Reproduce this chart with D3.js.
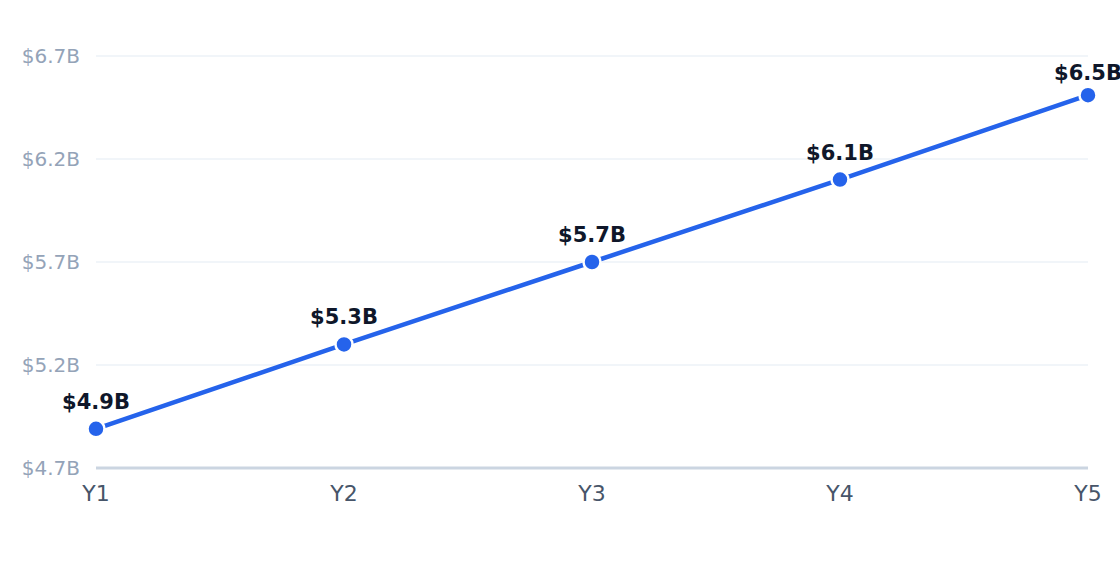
<!DOCTYPE html>
<html><head><meta charset="utf-8">
<script src="https://cdn.jsdelivr.net/npm/d3@7/dist/d3.min.js"></script>
<style>body{margin:0;background:#fff;}svg{display:block;font-family:"DejaVu Sans",sans-serif;}</style>
</head><body><svg id="c" width="1120" height="572"></svg>
<script>
const categories = ["Y1","Y2","Y3","Y4","Y5"];
const values = [4.89, 5.30, 5.70, 6.10, 6.51];
const labels = ["$4.9B","$5.3B","$5.7B","$6.1B","$6.5B"];
const yTicks = [4.7, 5.2, 5.7, 6.2, 6.7];
const yTickLabels = ["$4.7B","$5.2B","$5.7B","$6.2B","$6.7B"];

const svg = d3.select("#c");
const x = d3.scalePoint().domain(categories).range([96, 1088]);
const y = d3.scaleLinear().domain([4.7, 6.7]).range([468, 56]);

// grid
svg.append("g").selectAll("line").data(yTicks.slice(1)).join("line")
  .attr("x1", 96).attr("x2", 1088).attr("y1", d => y(d)).attr("y2", d => y(d))
  .attr("stroke", "#f1f5f9").attr("stroke-width", 2);
// baseline
svg.append("line").attr("x1", 96).attr("x2", 1088).attr("y1", y(4.7)).attr("y2", y(4.7))
  .attr("stroke", "#cbd5e1").attr("stroke-width", 3);

// y tick labels
svg.append("g").selectAll("text").data(yTicks).join("text")
  .attr("x", 80).attr("y", d => y(d)).attr("dy", "0.35em")
  .attr("text-anchor", "end").attr("fill", "#94a3b8").attr("font-size", 20)
  .text((d, i) => yTickLabels[i]);

// x labels
svg.append("g").selectAll("text").data(categories).join("text")
  .attr("x", d => x(d)).attr("y", 501)
  .attr("text-anchor", "middle").attr("fill", "#475569").attr("font-size", 22)
  .text(d => d);

// line
const line = d3.line().x((d, i) => x(categories[i])).y(d => y(d));
svg.append("path").datum(values).attr("d", line)
  .attr("fill", "none").attr("stroke", "#2563eb").attr("stroke-width", 4.5);

// points
svg.append("g").selectAll("circle").data(values).join("circle")
  .attr("cx", (d, i) => x(categories[i])).attr("cy", d => y(d)).attr("r", 8.5)
  .attr("fill", "#2563eb").attr("stroke", "#fff").attr("stroke-width", 2.5);

// data labels
svg.append("g").selectAll("text").data(values).join("text")
  .attr("x", (d, i) => x(categories[i])).attr("y", d => Math.max(y(d) - 20, 80))
  .attr("text-anchor", "middle").attr("fill", "#0f172a").attr("font-size", 21).attr("font-weight", "bold")
  .text((d, i) => labels[i]);
</script></body></html>
